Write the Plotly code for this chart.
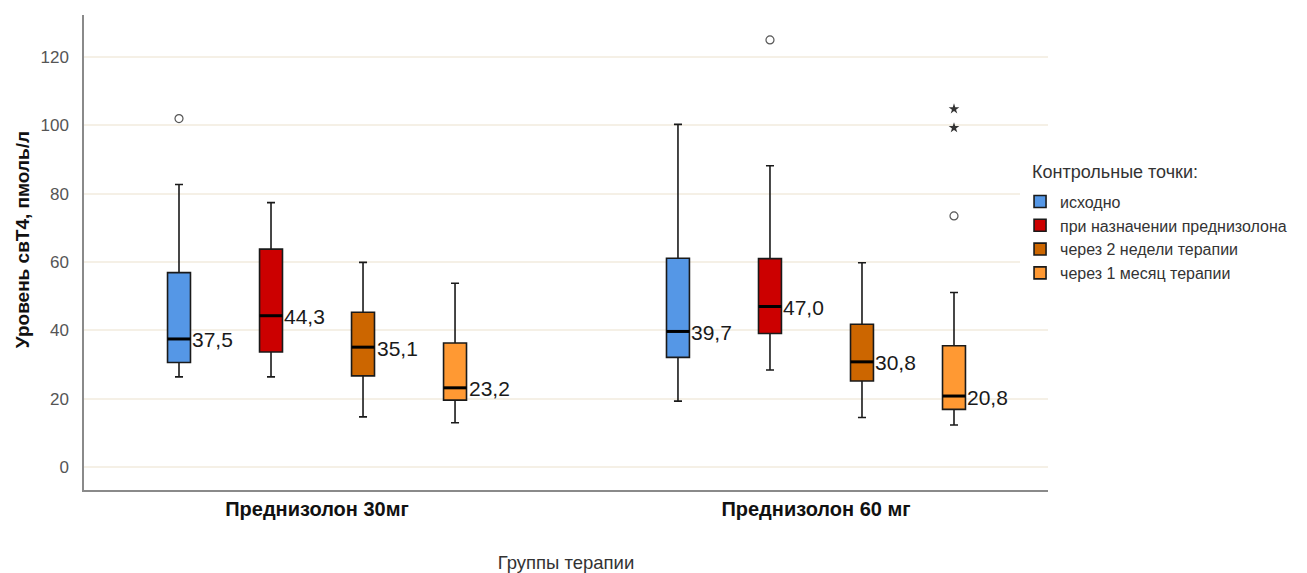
import plotly.graph_objects as go

# Therapy groups (x categories) and control points (box series)
groups = ["Преднизолон 30мг", "Преднизолон 60 мг"]
series_names = [
    "исходно",
    "при назначении преднизолона",
    "через 2 недели терапии",
    "через 1 месяц терапии",
]
series_colors = ["#5597E6", "#CC0000", "#CC6600", "#FF9933"]
legend_title = "Контрольные точки:"
y_title = "Уровень свТ4, пмоль/л"
x_title = "Группы терапии"

# Box statistics per series: one value per therapy group
q1 = [[30.6, 32.1], [33.7, 39.1], [26.7, 25.2], [19.6, 16.9]]
medians = [[37.5, 39.7], [44.3, 47.0], [35.1, 30.8], [23.2, 20.8]]
q3 = [[56.9, 61.1], [63.8, 61.0], [45.3, 41.8], [36.3, 35.5]]
lower_whisker = [[26.4, 19.3], [26.4, 28.4], [14.7, 14.5], [13.0, 12.3]]
upper_whisker = [[82.7, 100.3], [77.4, 88.2], [59.9, 59.8], [53.8, 51.1]]

# Outliers: (series index, group index, value)
outliers_mild = [(0, 0, 102.0), (1, 1, 125.0), (3, 1, 73.5)]
outliers_extreme = [(3, 1, 104.8), (3, 1, 99.3)]

y_ticks = [0, 20, 40, 60, 80, 100, 120]

# dodge layout for the four boxes inside each group
dodge = 0.1844
box_w = 0.046
n_series = len(series_names)


def xpos(series_idx, group_idx):
    return group_idx + (series_idx - (n_series - 1) / 2) * dodge


fig = go.Figure()

for s, name in enumerate(series_names):
    xs = [xpos(s, g) for g in range(len(groups))]
    fig.add_trace(go.Box(
        name=name,
        x=xs,
        q1=q1[s], median=medians[s], q3=q3[s],
        lowerfence=lower_whisker[s], upperfence=upper_whisker[s],
        width=box_w,
        whiskerwidth=0.35,
        fillcolor=series_colors[s],
        line=dict(color="#1a1a1a", width=1.6),
        boxpoints=False,
        hoverinfo="skip",
    ))

# thick median bars and value labels
for s in range(n_series):
    for g in range(len(groups)):
        c = xpos(s, g)
        m = medians[s][g]
        fig.add_trace(go.Scatter(
            x=[c - box_w / 2, c + box_w / 2], y=[m, m],
            mode="lines", line=dict(color="#000000", width=3),
            showlegend=False, hoverinfo="skip",
        ))
        fig.add_annotation(
            x=c + box_w / 2, y=m, xref="x", yref="y",
            text=f"{m:.1f}".replace(".", ","),
            showarrow=False, xanchor="left", yanchor="middle", xshift=0, yshift=-1,
            font=dict(family="Arial, Liberation Sans", size=21, color="#1a1a1a"),
        )

fig.add_trace(go.Scatter(
    x=[xpos(s, g) for s, g, _ in outliers_mild],
    y=[v for _, _, v in outliers_mild],
    mode="markers",
    marker=dict(symbol="circle-open", size=8, color="#555555", line=dict(width=1.2)),
    showlegend=False, hoverinfo="skip",
))
fig.add_trace(go.Scatter(
    x=[xpos(s, g) for s, g, _ in outliers_extreme],
    y=[v for _, _, v in outliers_extreme],
    mode="markers",
    marker=dict(symbol="star", size=8, color="#333333", line=dict(width=0)),
    showlegend=False, hoverinfo="skip",
))

# legend heading sits above the entries
fig.add_annotation(
    text=legend_title, xref="paper", yref="paper",
    x=0.981, y=0.669, xanchor="left", yanchor="middle", showarrow=False,
    font=dict(family="Arial, Liberation Sans", size=18, color="#333333"),
)
# vertical value-axis title
fig.add_annotation(
    text=f"<b>{y_title}</b>", xref="paper", yref="paper",
    x=-0.0643, y=0.526, xanchor="center", yanchor="middle", textangle=-90,
    showarrow=False,
    font=dict(family="Arial, Liberation Sans", size=19, color="#111111"),
)

fig.update_layout(
    width=1307, height=573,
    margin=dict(l=84, r=259, t=15, b=83),
    paper_bgcolor="white", plot_bgcolor="white",
    font=dict(family="Arial, Liberation Sans", color="#333333"),
    showlegend=True,
    legend=dict(
        font=dict(size=16, color="#333333"),
        x=0.971, xanchor="left", y=0.643, yanchor="top",
        bgcolor="white",
        tracegroupgap=0,
    ),
)

fig.update_xaxes(
    range=[-0.467, 1.465],
    tickvals=list(range(len(groups))),
    ticktext=[f"<b>{g}</b>" for g in groups],
    tickfont=dict(size=20, color="#111111"),
    ticks="", ticklabelstandoff=0,
    showgrid=False, zeroline=False, automargin=False,
    showline=True, linecolor="#8a8a8a", linewidth=2,
    title=dict(text=x_title, font=dict(size=18.5, color="#333333"), standoff=40),
)
fig.update_yaxes(
    range=[-6.7, 132.3],
    tickvals=y_ticks,
    tickfont=dict(size=17, color="#555555"),
    ticks="", ticklabelstandoff=10,
    showgrid=True, gridcolor="#F5F0E6", gridwidth=1.5,
    zeroline=False, automargin=False,
    showline=True, linecolor="#8a8a8a", linewidth=1.5,
)

fig.write_html("out.html")
